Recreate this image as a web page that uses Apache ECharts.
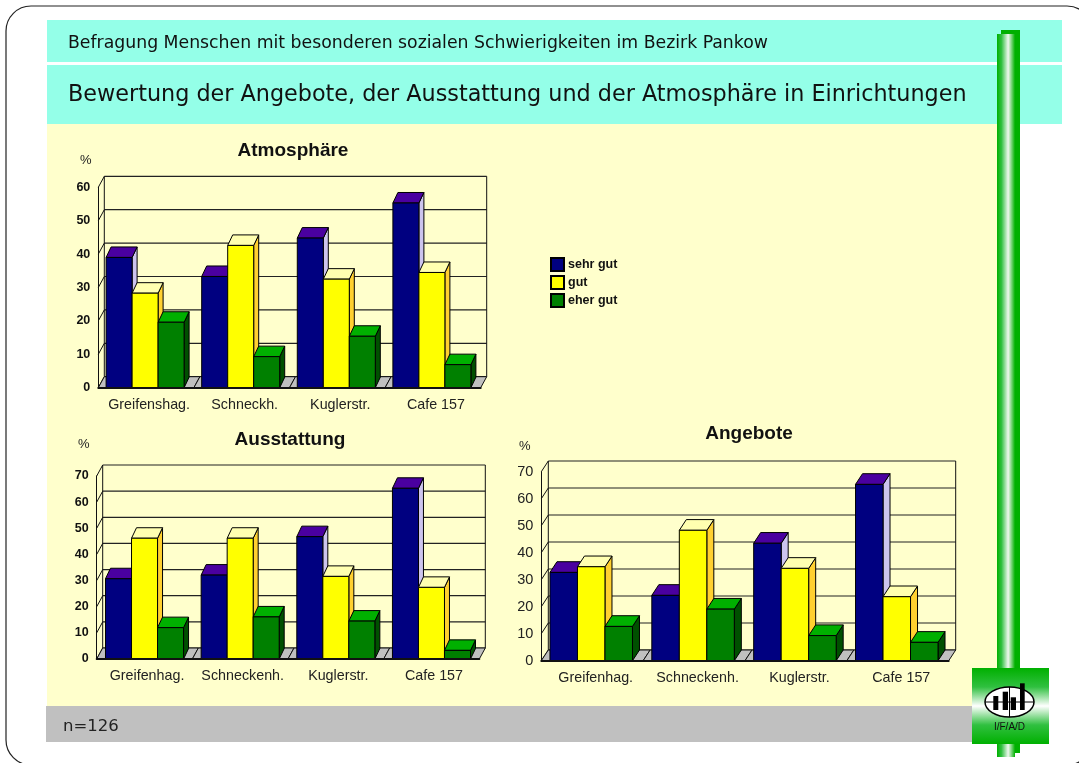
<!DOCTYPE html>
<html><head><meta charset="utf-8">
<style>html,body{margin:0;padding:0;background:#fff}#c{width:1079px;height:763px}</style>
<script src="https://cdn.jsdelivr.net/npm/echarts@6/dist/echarts.min.js"></script>
</head><body><div id="c"></div>
<script>
const headerTop = 'Befragung Menschen mit besonderen sozialen Schwierigkeiten im Bezirk Pankow';
const headerMain = 'Bewertung der Angebote, der Ausstattung und der Atmosphäre in Einrichtungen';
const footerText = 'n=126';
const seriesNames = ['sehr gut', 'gut', 'eher gut'];

const atmosCats = ['Greifenshag.', 'Schneckh.', 'Kuglerstr.', 'Cafe 157'];
const atmosSehrGut = [39, 33.3, 44.8, 55.3];
const atmosGut = [28.3, 42.6, 32.5, 34.5];
const atmosEherGut = [19.6, 9.3, 15.4, 6.9];
const atmosTicks = [0, 10, 20, 30, 40, 50, 60];

const ausstCats = ['Greifenhag.', 'Schneckenh.', 'Kuglerstr.', 'Cafe 157'];
const ausstSehrGut = [30.7, 32.1, 46.8, 65.3];
const ausstGut = [46.2, 46.2, 31.6, 27.4];
const ausstEherGut = [12, 16.1, 14.5, 3.3];
const ausstTicks = [0, 10, 20, 30, 40, 50, 60, 70];

const angebCats = ['Greifenhag.', 'Schneckenh.', 'Kuglerstr.', 'Cafe 157'];
const angebSehrGut = [32.7, 24.2, 43.5, 65.3];
const angebGut = [34.8, 48.3, 34.2, 23.7];
const angebEherGut = [12.7, 19.1, 9.3, 6.8];
const angebTicks = [0, 10, 20, 30, 40, 50, 60, 70];

const palette = [
  {front:'#000080', top:'#4a00a0', side:'#ccc4ee'},
  {front:'#ffff00', top:'#ffffb0', side:'#ffd030'},
  {front:'#008000', top:'#00b000', side:'#005000'}
];
const SANS = '"Liberation Sans", Arial, sans-serif';
const HEAD = '"DejaVu Sans", "Noto Sans", sans-serif';

const charts = [
  {title:'Atmosphäre', cats:atmosCats, vals:[atmosSehrGut,atmosGut,atmosEherGut], ticks:atmosTicks,
   grid:{left:98.3,top:187.3,width:382.4,height:200.4}, wall:[6,11], bar:[5,10.5], frac:0.272, shift:-1, titleX:288, titleY:136, pct:[80,154],
   label:{fontSize:12.5,fontWeight:'bold',color:'#111'}, pad:6},
  {title:'Ausstattung', cats:ausstCats, vals:[ausstSehrGut,ausstGut,ausstEherGut], ticks:ausstTicks,
   grid:{left:96.7,top:476,width:382.6,height:183}, wall:[6,11], bar:[5,10.5], frac:0.272, shift:0, titleX:285, titleY:425, pct:[78,438],
   label:{fontSize:12.5,fontWeight:'bold',color:'#111'}, pad:5},
  {title:'Angebote', cats:angebCats, vals:[angebSehrGut,angebGut,angebEherGut], ticks:angebTicks,
   grid:{left:541.3,top:471.7,width:407.4,height:189}, wall:[7,10.7], bar:[7,10.7], frac:0.27, shift:-1, titleX:744, titleY:419, pct:[519,440],
   label:{fontSize:14.5,color:'#222'}, pad:7}
];

function line(a,b,w,c){return {type:'line',shape:{x1:a[0],y1:a[1],x2:b[0],y2:b[1]},style:{stroke:c||'#111',lineWidth:w||1}};}
function poly(pts,fill,stroke){return {type:'polygon',shape:{points:pts},style:{fill:fill,stroke:stroke||'#000',lineWidth:1}};}

function wallSeries(ch,i){
  const [dx,dy]=ch.wall, n=ch.cats.length;
  return {type:'custom',name:'wall',xAxisIndex:i,yAxisIndex:i,z:1,silent:true,clip:false,
    data:ch.ticks.map(t=>[0,t]),encode:{x:0,y:1},
    renderItem(p,api){
      const v=api.value(1), w=api.size([1,0])[0];
      const l=api.coord([0,v])[0]-w/2, r=api.coord([n-1,v])[0]+w/2, y=api.coord([0,v])[1];
      const kids=[line([l,y],[l+dx,y-dy]),line([l+dx,y-dy],[r+dx,y-dy],1.2,'#222')];
      if(p.dataIndex===ch.ticks.length-1){
        const y0=api.coord([0,0])[1];
        kids.push(line([l+dx,y0-dy],[l+dx,y-dy]),line([r+dx,y0-dy],[r+dx,y-dy]));
      }
      return {type:'group',children:kids};
    }};
}
function floorSeries(ch,i){
  const [dx,dy]=ch.wall;
  return {type:'custom',name:'floor',xAxisIndex:i,yAxisIndex:i,z:2,silent:true,clip:false,
    data:ch.cats.map((c,k)=>[k,0]),encode:{x:0,y:1},
    renderItem(p,api){
      const c=api.coord([api.value(0),0]), w=api.size([1,0])[0];
      const l=c[0]-w/2, r=c[0]+w/2, y=c[1];
      return poly([[l,y],[r,y],[r+dx,y-dy],[l+dx,y-dy]],'#c0c0c0','#111');
    }};
}
function barSeries(ch,i,s){
  const [dx,dy]=ch.bar, col=palette[s];
  return {type:'custom',name:seriesNames[s],xAxisIndex:i,yAxisIndex:i,z:3+s,clip:false,
    itemStyle:{color:col.front,borderColor:'#000',borderWidth:1},
    data:ch.vals[s].map((v,k)=>[k,v]),encode:{x:0,y:1},
    renderItem(p,api){
      const cat=api.value(0), val=api.value(1), w=api.size([1,0])[0]*ch.frac;
      const c0=api.coord([cat,0]), c1=api.coord([cat,val]);
      const x0=c0[0]+(s-1.5)*w+ch.shift, x1=x0+w, y0=c0[1], y1=c1[1];
      return {type:'group',children:[
        poly([[x1,y1],[x1+dx,y1-dy],[x1+dx,y0-dy],[x1,y0]],col.side),
        poly([[x0,y1],[x0+dx,y1-dy],[x1+dx,y1-dy],[x1,y1]],col.top),
        poly([[x0,y1],[x1,y1],[x1,y0],[x0,y0]],col.front)
      ]};
    }};
}

const series=[], grids=[], xAxes=[], yAxes=[], titles=[], pctTexts=[];
charts.forEach((ch,i)=>{
  grids.push(Object.assign({containLabel:false},ch.grid));
  xAxes.push({type:'category',gridIndex:i,data:ch.cats,z:10,
    axisTick:{show:false},axisLine:{lineStyle:{color:'#111',width:2}},
    axisLabel:{fontFamily:SANS,fontSize:14.3,color:'#222',margin:10,padding:[0,0,0,ch.pad],interval:0}});
  yAxes.push({type:'value',gridIndex:i,min:0,max:ch.ticks[ch.ticks.length-1],interval:10,z:10,
    splitLine:{show:false},axisTick:{show:false},
    axisLine:{show:true,lineStyle:{color:'#111',width:1}},
    axisLabel:Object.assign({fontFamily:SANS,margin:8},ch.label)});
  titles.push({text:ch.title,left:ch.titleX,top:ch.titleY,textAlign:'center',
    textStyle:{fontFamily:SANS,fontSize:19,fontWeight:'bold',color:'#111'}});
  pctTexts.push({type:'text',x:ch.pct[0],y:ch.pct[1],z:5,style:{text:'%',font:'13px '+SANS,fill:'#222'}});
  series.push(wallSeries(ch,i),floorSeries(ch,i));
  [0,1,2].forEach(s=>series.push(barSeries(ch,i,s)));
});

const pillarFill={type:'linear',x:0,y:0,x2:1,y2:0,colorStops:[
  {offset:0,color:'#00b000'},{offset:.25,color:'#30c040'},{offset:.62,color:'#f0f8f0'},{offset:1,color:'#00b000'}]};
const logoFill={type:'linear',x:0,y:0,x2:0,y2:1,colorStops:[
  {offset:0,color:'#00b000'},{offset:.25,color:'#30c040'},{offset:.5,color:'#ffffff'},{offset:.75,color:'#30c040'},{offset:1,color:'#00b000'}]};
function R(x,y,w,h,fill,z,r){return {type:'rect',shape:{x,y,width:w,height:h,r:r||0},style:{fill},z:z||-10,silent:true};}

const logoBars=[[993.3,696,5,14],[1002.7,691.7,5.3,18.3],[1010.7,697.3,5.3,12.7],[1020,683.3,4.7,26.7]];
const graphics=[
  {type:'rect',shape:{x:6,y:6,width:1086,height:759,r:25},style:{fill:'#fff',stroke:'#222',lineWidth:1.2},silent:true,z:-20},
  R(47,20,1015,42,'#94ffe8'),
  R(47,65,1015,59,'#94ffe8'),
  R(47,124,950,582,'#ffffcc'),
  R(46,706,951,36,'#c0c0c0'),
  R(1001,30,19,723,'#00b000',-5),
  R(997,34,18,723,pillarFill,-4),
  {type:'text',x:68,y:44,z:5,style:{text:headerTop,font:'17.3px '+HEAD,fill:'#111',textVerticalAlign:'middle'}},
  {type:'text',x:68,y:95,z:5,style:{text:headerMain,font:'22.3px '+HEAD,fill:'#111',textVerticalAlign:'middle'}},
  {type:'text',x:63,y:727,z:5,style:{text:footerText,font:'16.5px '+HEAD,fill:'#222',textVerticalAlign:'middle'}},
  R(972,668,77,76,logoFill,20),
  {type:'ellipse',shape:{cx:1009.5,cy:702,rx:24.5,ry:15},style:{fill:'#fff',stroke:'#000',lineWidth:1.5},z:21,silent:true},
  {type:'line',shape:{x1:985,y1:702,x2:1034,y2:702},style:{stroke:'#000',lineWidth:1},z:22,silent:true},
  {type:'line',shape:{x1:1009.5,y1:687,x2:1009.5,y2:717},style:{stroke:'#000',lineWidth:1},z:22,silent:true},
  ...logoBars.map(b=>R(b[0],b[1],b[2],b[3],'#000',23)),
  {type:'text',x:1009.5,y:727,z:24,style:{text:'I/F/A/D',font:'10px '+SANS,fill:'#111',textAlign:'center',textVerticalAlign:'middle'}},
  ...pctTexts
];

const chart=echarts.init(document.getElementById('c'),null,{renderer:'canvas'});
chart.setOption({
  animation:false,backgroundColor:'#fff',
  title:titles,
  legend:{data:seriesNames,left:545,top:252,orient:'vertical',itemWidth:13,itemHeight:13,itemGap:3,selectedMode:false,
    icon:'rect',textStyle:{fontFamily:SANS,fontSize:12.5,fontWeight:'bold',color:'#111',padding:[0,0,0,-1]}},
  grid:grids,xAxis:xAxes,yAxis:yAxes,series:series,graphic:graphics
});
</script></body></html>
